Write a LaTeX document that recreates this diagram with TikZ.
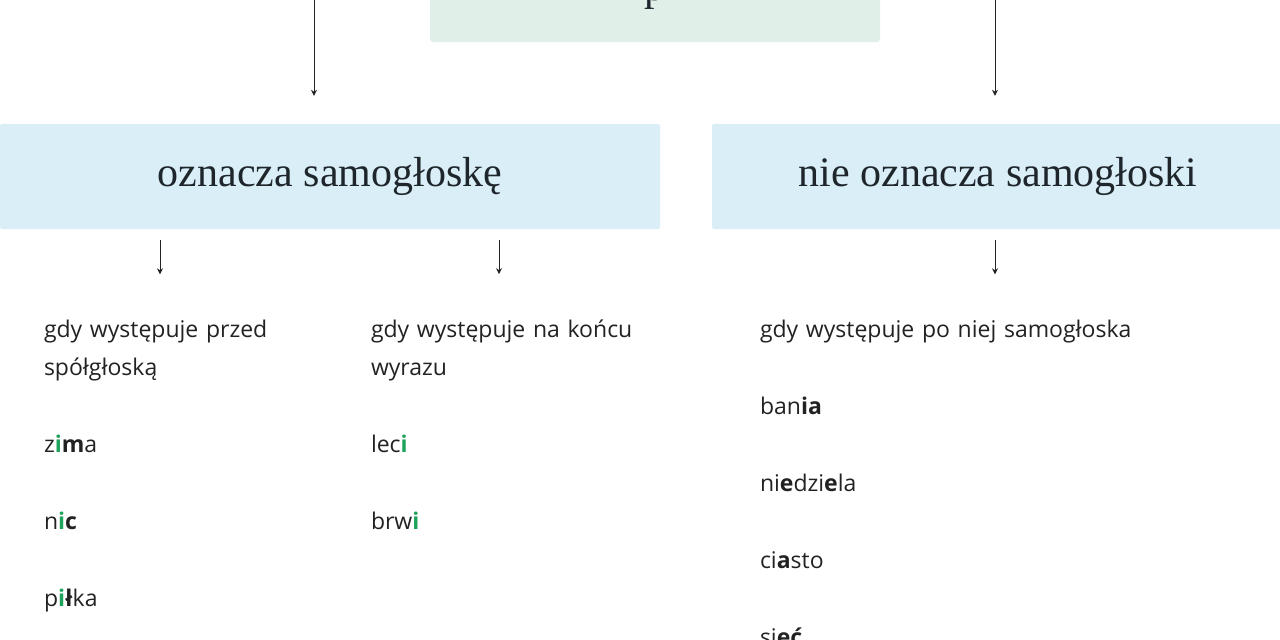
\documentclass[tikz,border=0pt]{standalone}
\usepackage{fontspec}
\setmainfont{Open Sans}
\newfontfamily\headfont{Liberation Serif}
\usetikzlibrary{arrows.meta, positioning, calc}
\definecolor{topcolor}{RGB}{224, 239, 231}
\definecolor{casecolor}{RGB}{217, 238, 246}
\definecolor{inkcolor}{RGB}{34, 34, 34}
\definecolor{headink}{RGB}{30, 38, 44}
\definecolor{vowelgreen}{RGB}{30, 163, 90}
\newcommand{\gi}{\textcolor{vowelgreen}{\textbf{i}}}
\newcommand{\bl}[1]{\textbf{#1}}

\begin{document}
\begin{tikzpicture}[
    x=1pt, y=-1pt,
    topbox/.style={fill=topcolor, rounded corners=3pt, minimum width=450pt, minimum height=102pt, inner sep=0pt},
    casebox/.style={fill=casecolor, rounded corners=2pt, minimum height=105pt, inner sep=0pt, text=headink, font=\headfont\fontsize{42}{50}\selectfont},
    rule/.style={text width=#1, align=left, anchor=base, inner sep=0pt, text=inkcolor, font=\fontsize{23}{38.5}\selectfont},
    arrow/.style={-{Stealth[length=6pt, width=6pt]}, line width=1pt, draw=inkcolor}
]
    \useasboundingbox (0,0) rectangle (1280,640);
    \clip (0,0) rectangle (1280,640);

    % Top box (cut at the upper edge)
    \node[topbox] (top) at (655,-9) {};
    \node[anchor=base, inner sep=0pt, text=headink, font=\headfont\fontsize{42}{50}\selectfont] (title) at (655,0) {p};
    \coordinate (srcL) at (314,-5);
    \coordinate (srcR) at (995,-5);

    % Two cases
    \node[casebox, minimum width=660pt] (vowel) at (330,176.5) {oznacza samogłoskę};
    \node[casebox, minimum width=572pt] (novowel) at (998,176.5) {nie oznacza samogłoski};

    % Rules and examples
    \node[rule=232pt] (before) at (160,337) {\mbox{gdy występuje przed}\\ spółgłoską\\[38.5pt] z\gi\bl{m}a\\[38.5pt] n\gi\bl{c}\\[38.5pt] p\gi\bl{ł}ka};
    \node[rule=256pt] (atend) at (499,337) {\mbox{gdy występuje na końcu}\\ wyrazu\\[38.5pt] lec\gi\\[38.5pt] brw\gi};
    \node[rule=470pt] (after) at (995,337) {gdy występuje po niej samogłoska\\[38.5pt] ban\bl{i}\bl{a}\\[38.5pt] ni\bl{e}dzi\bl{e}la\\[38.5pt] ci\bl{a}sto\\[38.5pt] si\bl{eć}};

    % Connectors
    \draw[arrow, shorten >=28pt] (srcL) -- (srcL |- vowel.north);
    \draw[arrow, shorten >=28pt] (srcR) -- (srcR |- novowel.north);
    \draw[arrow, shorten <=11pt, shorten >=45pt] (vowel.south -| before.north) -- (before.north);
    \draw[arrow, shorten <=11pt, shorten >=45pt] (vowel.south -| atend.north) -- (atend.north);
    \draw[arrow, shorten <=11pt, shorten >=45pt] (novowel.south -| after.north) -- (after.north);
\end{tikzpicture}
\end{document}
